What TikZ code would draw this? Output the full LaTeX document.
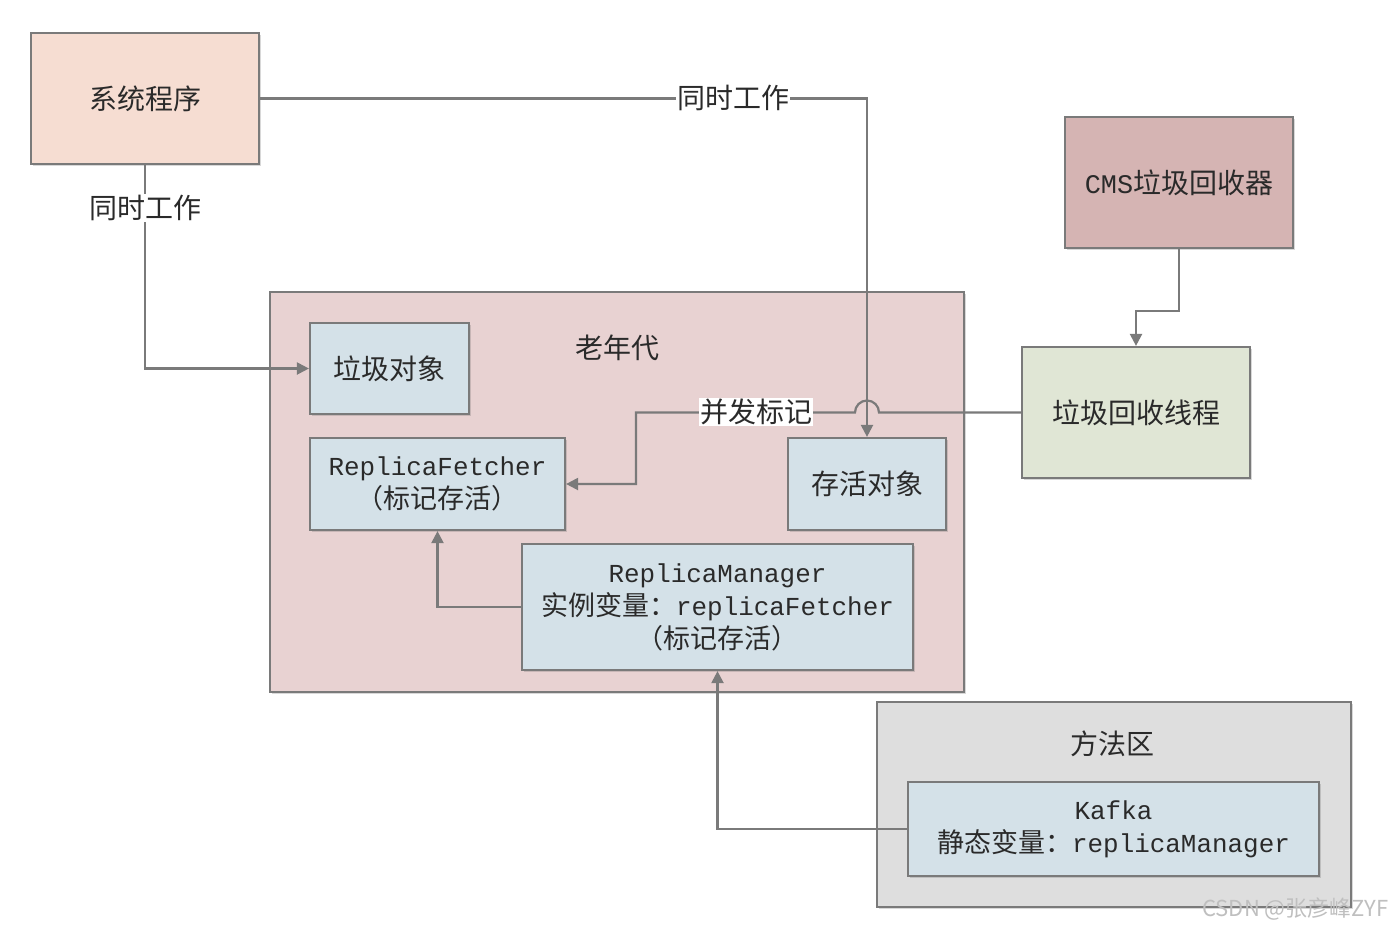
\documentclass[tikz,border=0pt]{standalone}
\usepackage{fontspec}
\setmainfont{Noto Sans CJK SC}
\newfontfamily\mono[Scale=0.96]{Liberation Mono}
\usetikzlibrary{arrows.meta,shadows}
\definecolor{edgegray}{HTML}{7A7A7A}
\definecolor{txt}{HTML}{2A2A2A}
\definecolor{sysfill}{HTML}{F6DDD2}
\definecolor{oldfill}{HTML}{E8D2D2}
\definecolor{bluefill}{HTML}{D4E1E8}
\definecolor{cmsfill}{HTML}{D5B4B3}
\definecolor{thrfill}{HTML}{E0E6D5}
\definecolor{methfill}{HTML}{DEDEDE}
\tikzset{
  box/.style={draw=edgegray, line width=2.2pt, text=txt, align=center, inner sep=0pt,
    font=\fontsize{27}{33}\selectfont,
    drop shadow={shadow xshift=2pt, shadow yshift=-2pt, opacity=0.25, fill=black!60}},
  conn/.style={draw=edgegray, line width=2.2pt},
  arr/.style={conn, -{Triangle[length=12pt,width=12pt]}},
  lbl/.style={fill=white, text=txt, inner sep=1pt, font=\fontsize{28}{32}\selectfont},
  plain/.style={text=txt, font=\fontsize{28}{32}\selectfont}
}
\begin{document}
\begin{tikzpicture}[x=1pt,y=-1pt]
\useasboundingbox[fill=white] (0,0) rectangle (1394,932);
% containers
\node[box, fill=oldfill, minimum width=694, minimum height=400] (old) at (617,492) {};
\node[plain] (oldlbl) at (617,348) {老年代};
\node[box, fill=methfill, minimum width=474, minimum height=205] (meth) at (1114,804.5) {};
\node[plain] (methlbl) at (1112,744) {方法区};
% boxes
\node[box, fill=sysfill, minimum width=228, minimum height=131, font=\fontsize{28}{32}\selectfont] (sys) at (145,98.5) {系统程序};
\node[box, fill=bluefill, minimum width=159, minimum height=91, font=\fontsize{28}{32}\selectfont] (garb) at (389.5,368.5) {垃圾对象};
\node[box, fill=bluefill, minimum width=255, minimum height=92] (rf) at (437.5,484) {{\mono ReplicaFetcher}\\（标记存活）};
\node[box, fill=bluefill, minimum width=158, minimum height=92, font=\fontsize{28}{32}\selectfont] (live) at (867,484) {存活对象};
\node[box, fill=bluefill, minimum width=391, minimum height=126] (rm) at (717.5,607) {{\mono ReplicaManager}\\实例变量：{\mono replicaFetcher}\\（标记存活）};
\node[box, fill=cmsfill, minimum width=228, minimum height=131, font=\fontsize{28}{32}\selectfont] (cms) at (1179,182.5) {{\mono CMS}垃圾回收器};
\node[box, fill=thrfill, minimum width=228, minimum height=131, font=\fontsize{28}{32}\selectfont] (thr) at (1136,412.5) {垃圾回收线程};
\node[box, fill=bluefill, minimum width=411, minimum height=94] (kafka) at (1113.5,829) {{\mono Kafka}\\静态变量：{\mono replicaManager}};
% connectors
\draw[arr] (sys.east) -| (live.north);
\draw[arr] (sys.south) |- (garb.west);
\coordinate (c1) at (1136,311);
\draw[arr] (cms.south) |- (c1) -- (thr.north);
\coordinate (j1) at (879,412.5);
\coordinate (c2) at (636,412.5);
\draw[arr] (thr.west) -- (j1) arc[start angle=0, end angle=180, radius=12pt] -- (c2) |- (rf.east);
\draw[arr] (rm.west) -| (rf.south);
\draw[arr] (kafka.west) -| (rm.south);
% labels on connectors
\node[lbl] (l1) at (733,97.5) {同时工作};
\node[lbl] (l2) at (145,208) {同时工作};
\node[lbl] (l3) at (756,412) {并发标记};
% watermark
\node[text=black!25, font=\fontsize{22}{26}\selectfont, anchor=east] (wm) at (1392,909) {CSDN @张彦峰ZYF};
\end{tikzpicture}
\end{document}
